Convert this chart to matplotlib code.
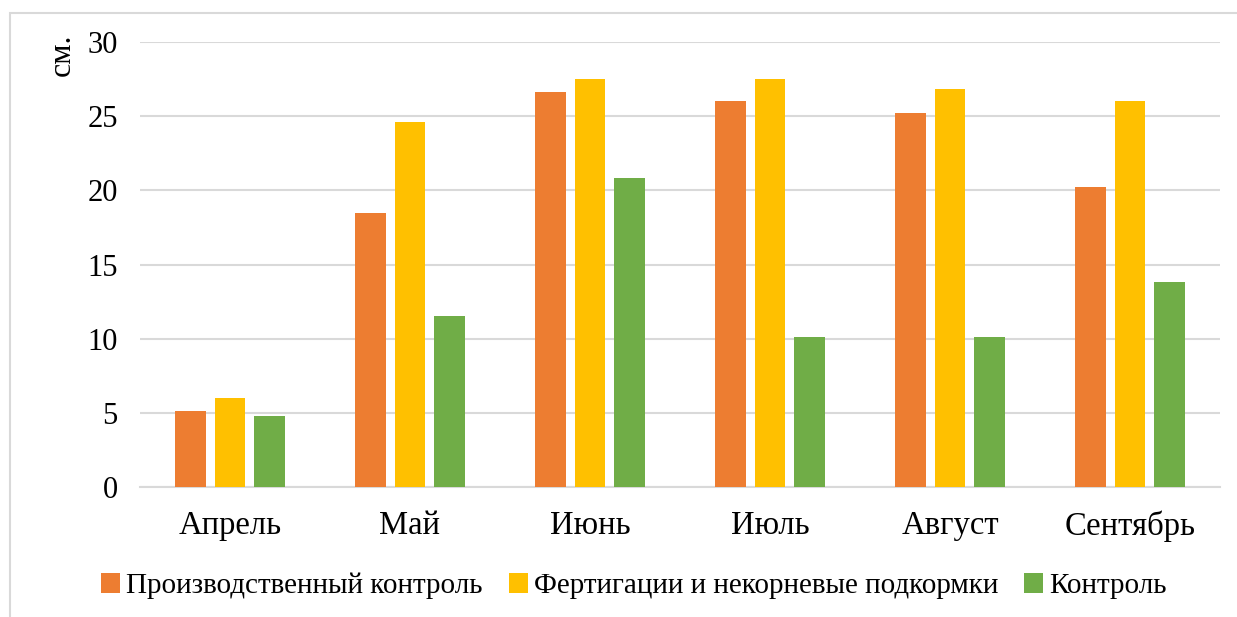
import matplotlib
matplotlib.use('Agg')
import matplotlib.pyplot as plt
import numpy as np
from matplotlib.patches import Patch, Rectangle

months = ['Апрель', 'Май', 'Июнь', 'Июль', 'Август', 'Сентябрь']
series_names = ['Производственный контроль',
                'Фертигации и некорневые подкормки',
                'Контроль']
production = [5.1, 18.5, 26.6, 26.0, 25.2, 20.2]
fertigation = [6.0, 24.6, 27.5, 27.5, 26.8, 26.0]
control = [4.8, 11.5, 20.8, 10.1, 10.1, 13.8]
colors = ['#ED7D31', '#FFC000', '#70AD47']
y_ticks = [0, 5, 10, 15, 20, 25, 30]

plt.rcParams['font.family'] = ['Liberation Serif', 'DejaVu Serif']

W, H = 1237, 617
fig = plt.figure(figsize=(W / 100, H / 100), dpi=100)
ax = fig.add_axes([140 / W, 1 - 487 / H, 1080 / W, 445 / H])

x = np.arange(len(months))
width = 0.172
step = 0.222
for i, (vals, c) in enumerate(zip([production, fertigation, control], colors)):
    ax.bar(x + (i - 1) * step, vals, width, color=c, zorder=3)

ax.set_xlim(-0.5, len(months) - 0.5)
ax.set_ylim(0, 30)
ax.set_yticks(y_ticks)
ax.set_xticks(x)
ax.set_xticklabels(months, fontsize=23.5)
ax.tick_params(axis='y', labelsize=22, length=0, pad=16)
ax.tick_params(axis='x', length=0, pad=17)
ax.grid(axis='y', color='#D9D9D9', linewidth=1.5, zorder=0)
for s in ['top', 'right', 'left']:
    ax.spines[s].set_visible(False)
ax.spines['bottom'].set_color('#D9D9D9')
ax.spines['bottom'].set_linewidth(1.5)

fig.text(62 / W, 1 - 55 / H, 'см.', rotation=90, fontsize=23,
         ha='center', va='center')

handles = [Patch(facecolor=c, edgecolor='none') for c in colors]
fig.legend(handles, series_names, loc='center', bbox_to_anchor=(634 / W, 1 - 586 / H),
           ncol=3, frameon=False, fontsize=21, handlelength=0.65, handleheight=0.65,
           handletextpad=0.2, columnspacing=0.9)

# outer chart frame, cut off at right and bottom
fig.patches.append(Rectangle((10 / W, -0.1), 1.2, 1 - 13 / H + 0.1,
                             transform=fig.transFigure, fill=False,
                             edgecolor='#D9D9D9', linewidth=1.5))

fig.savefig('out.png', dpi=100)
